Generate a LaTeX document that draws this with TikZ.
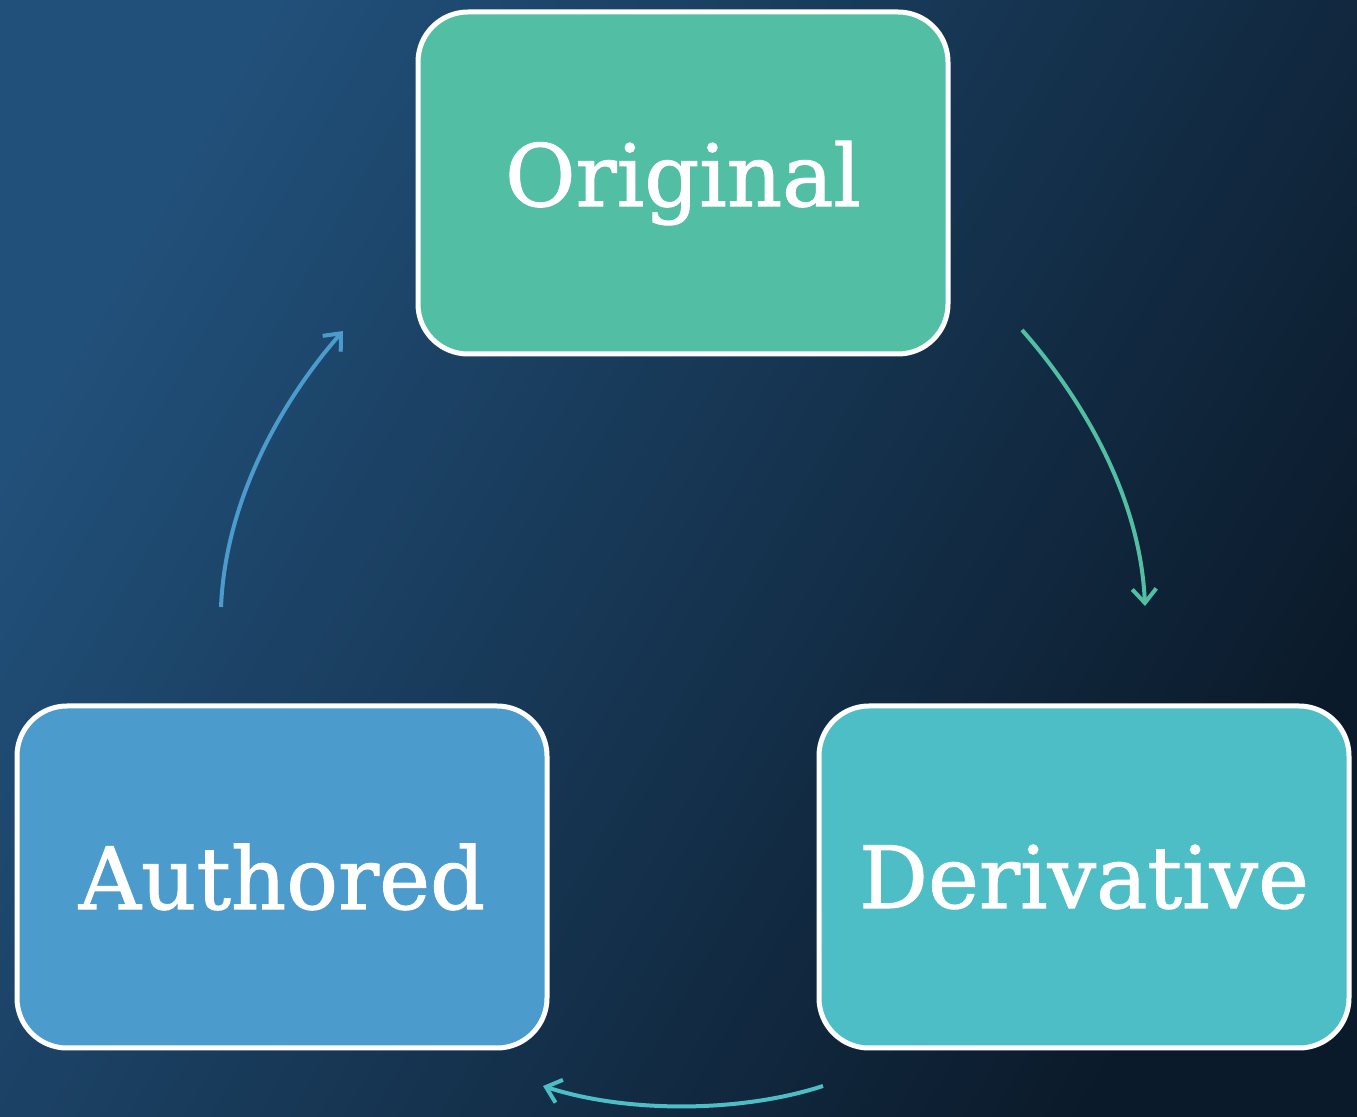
\documentclass[tikz,border=0pt]{standalone}
\usepackage{fontspec}
\setmainfont{DejaVu Serif}
\newfontfamily\cardfont{DejaVu Serif}[BoldFont=DejaVu Serif,BoldFeatures={FakeBold=1.2}]
\usetikzlibrary{arrows.meta}
\definecolor{bgA}{HTML}{21507A}
\definecolor{bgM}{HTML}{173A59}
\definecolor{bgB}{HTML}{0B1A2A}
\definecolor{orig}{HTML}{52BFA4}
\definecolor{auth}{HTML}{4B9CCC}
\definecolor{deriv}{HTML}{4DBDC6}
\begin{document}
\begin{tikzpicture} [x=0.5pt,y=-0.5pt,font=\cardfont\bfseries\fontsize{43}{50}\selectfont,
	card/.style={draw=white,line width=2.5pt,rounded corners=25pt,minimum width=265pt,minimum height=171pt,text=white,inner sep=0pt},
	cycle/.style={line width=2pt,-{Straight Barb[length=7pt,width=12pt]}}]
	% background
	\shade[left color=bgA,middle color=bgM,right color=bgB,shading angle=60] (0,0) rectangle (1357,1117);
	\useasboundingbox (0,0) rectangle (1357,1117);
	% boxes
	\node[card,fill=orig] (original) at (683,183) {Original};
	\node[card,fill=auth] (authored) at (282,877) {Authored};
	\node[card,fill=deriv] (derivative) at (1084,877) {Derivative};
	% arrow ends
	\coordinate (o-out) at (1022,330);
	\coordinate (d-in) at (1145,606);
	\coordinate (d-out) at (823,1086);
	\coordinate (a-in) at (543,1086);
	\coordinate (a-out) at (221,607);
	\coordinate (o-in) at (343,331);
	\draw[cycle,orig] (o-out) .. controls (1075,390) and (1140,490) .. (d-in);
	\draw[cycle,deriv] (d-out) .. controls (740,1113) and (626,1113) .. (a-in);
	\draw[cycle,auth] (a-out) .. controls (226,490) and (291,390) .. (o-in);
\end{tikzpicture}
\end{document}
